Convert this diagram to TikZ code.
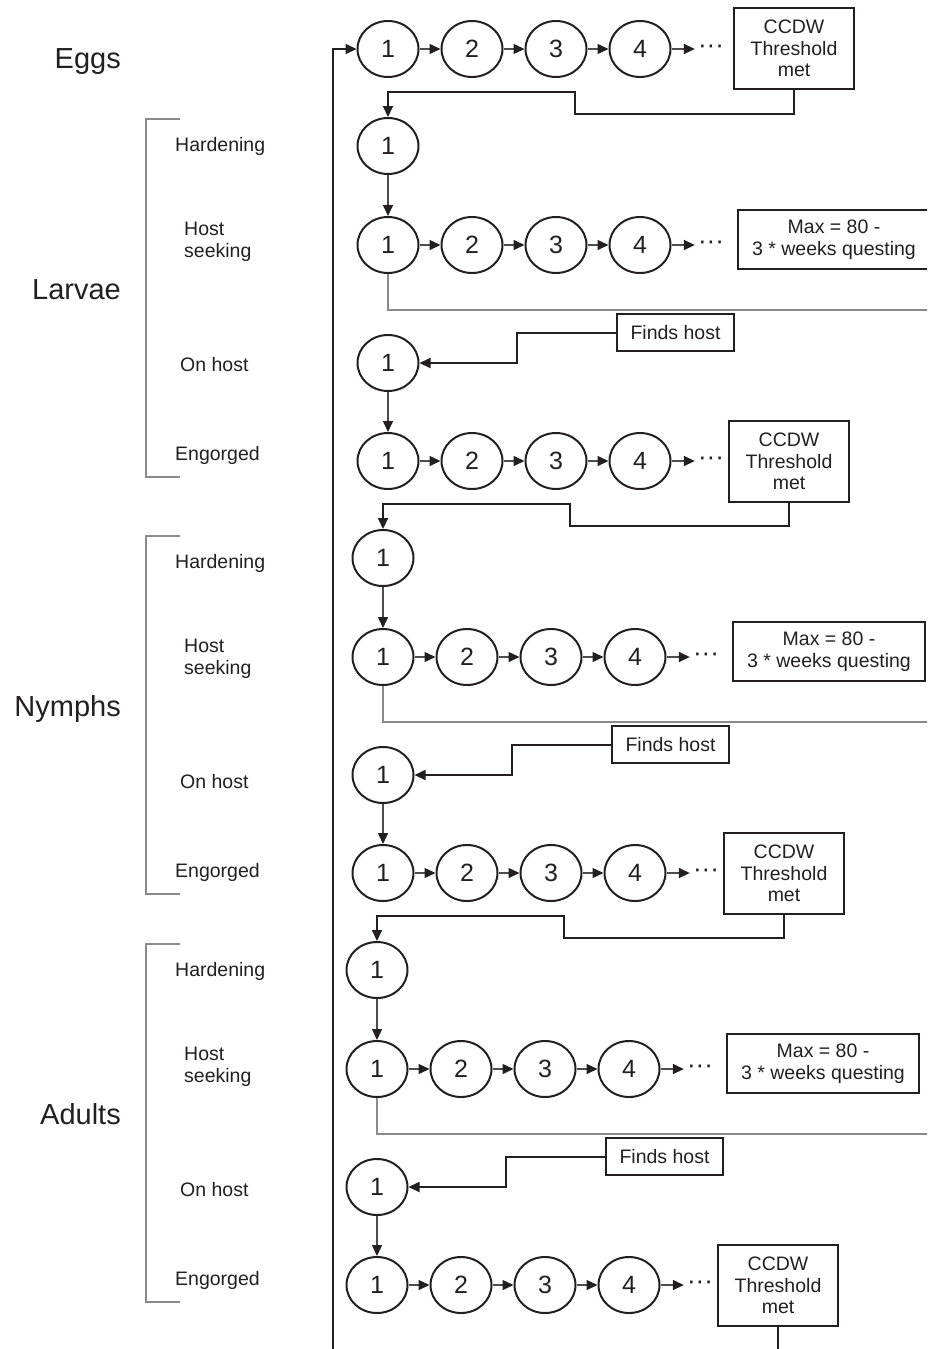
\documentclass[tikz,border=0pt]{standalone}
\usepackage{fontspec}
\setmainfont{Liberation Sans}
\usepackage{xcolor}
\definecolor{ink}{HTML}{231F20}
\definecolor{rule}{HTML}{8A8A8A}
\usetikzlibrary{arrows.meta,shapes.geometric}
\tikzset{
  >={Triangle[length=11pt,width=10pt,color=ink]},
  wk/.style    ={ellipse,draw=ink,line width=2pt,minimum width=61pt,
                 minimum height=56pt,inner sep=0pt,text=ink,
                 font=\fontsize{25}{25}\selectfont},
  box/.style   ={draw=ink,line width=2pt,align=center,inner sep=0pt,
                 text=ink,font=\fontsize{19.5}{21.5}\selectfont},
  ccdw/.style  ={box,minimum width=120pt,minimum height=81pt},
  maxbox/.style={box,minimum width=192pt,minimum height=59pt},
  hostbox/.style={box,minimum width=117pt,minimum height=37pt},
  more/.style  ={text=ink,font=\fontsize{26}{26}\selectfont,inner sep=3pt},
  flow/.style  ={->,draw=ink!80,line width=1.5pt},
  conn/.style  ={draw=ink,line width=2pt},
  leave/.style ={draw=rule,line width=1.5pt},
  brk/.style   ={draw=rule,line width=1.6pt},
  grp/.style   ={anchor=base east,inner sep=0pt,text=ink,
                 font=\fontsize{29}{29}\selectfont},
  lbl/.style   ={anchor=base west,inner sep=0pt,align=left,text=ink,
                 font=\fontsize{19.5}{22}\selectfont},
}
\newcommand{\etc}{\textperiodcentered\textperiodcentered\textperiodcentered}

\begin{document}
\begin{tikzpicture}[x=1pt,y=-1pt]
\useasboundingbox (0,0) rectangle (927,1349);
\clip (0,0) rectangle (927,1349);
% eggs
\node[grp] at (121,68) {Eggs};
\foreach \i in {1,...,4}
  \node[wk] (e\i) at ({388+84*(\i-1)},49) {\i};
\node[more] (edots) at (711,49) {\etc};
\node[ccdw] (ebox) at (794,48.5) {CCDW\\Threshold\\met};
\foreach \i/\j in {1/2,2/3,3/4} \draw[flow] (e\i) -- (e\j);
\draw[flow] (e4) -- (edots);
\coordinate (loop) at (333,1360);
\draw[conn,->] (loop) |- (e1);
% larvae, nymphs, adults
\foreach \s/\dx/\dy/\ly/\lifestage/\prev in
    {L/0/0/0/Larvae/e, N/-5/412/417/Nymphs/L, A/-11/824/825/Adults/N}{
  \begin{scope}[shift={(0,\ly)}]
    \node[grp] at (121,299) {\lifestage};
    \draw[brk] (180,119) -| (146,477) -- (180,477);
    \node[lbl] at (175,151) {Hardening};
    \node[lbl,anchor=west] at (184,241.5) {Host\\seeking};
    \node[lbl] at (180,371) {On host};
    \node[lbl] at (175,460) {Engorged};
  \end{scope}
  \begin{scope}[shift={(\dx,\dy)}]
    \node[wk] (\s hard) at (388,146) {1};
    \node[wk] (\s on) at (388,363) {1};
    \foreach \i in {1,...,4}{
      \node[wk] (\s seek\i) at ({388+84*(\i-1)},245) {\i};
      \node[wk] (\s eng\i) at ({388+84*(\i-1)},461) {\i};}
    \node[more] (\s seekdots) at (711,245) {\etc};
    \node[more] (\s engdots) at (711,461) {\etc};
    \node[maxbox] (\s max) at (834,239.5) {Max = 80 -\\3 * weeks questing};
    \node[hostbox] (\s find) at (675.5,332.5) {Finds host};
    \node[ccdw] (\s box) at (789,461.5) {CCDW\\Threshold\\met};
    \foreach \i/\j in {1/2,2/3,3/4}{
      \draw[flow] (\s seek\i) -- (\s seek\j);
      \draw[flow] (\s eng\i) -- (\s eng\j);}
    \draw[flow] (\s seek4) -- (\s seekdots);
    \draw[flow] (\s eng4) -- (\s engdots);
    \draw[flow] (\s hard) -- (\s seek1);
    \draw[flow] (\s on) -- (\s eng1);
    \draw[conn,->] (\prev box.south) |- (575,114) -- (575,92) -| (\s hard);
    \draw[leave] (\s seek1.south) |- (950,310);
    \draw[conn,->] (\s find.west) -- (517,332.5) |- (\s on);
  \end{scope}
}
\draw[conn] (Abox.south) -- ++(0,40);
\end{tikzpicture}
\end{document}
